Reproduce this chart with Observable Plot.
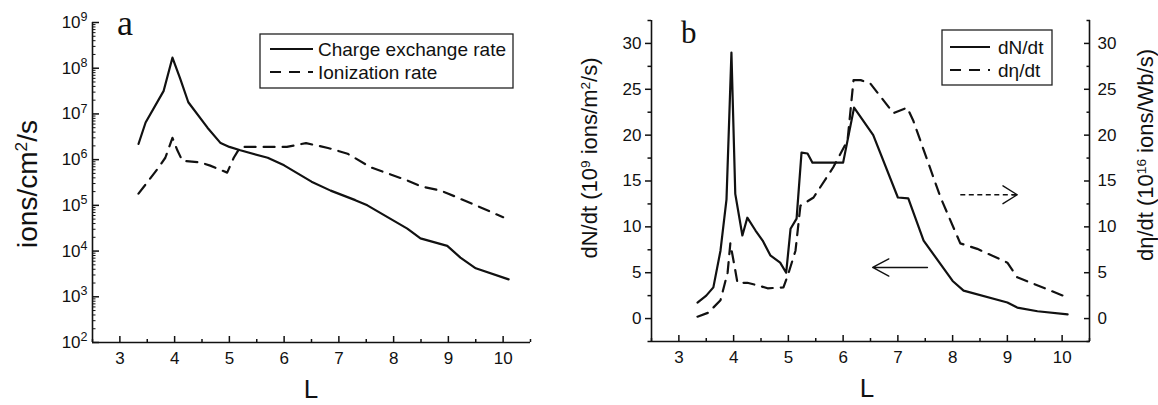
<!DOCTYPE html>
<html><head><meta charset="utf-8">
<script src="https://cdn.jsdelivr.net/npm/d3@7"></script>
<script src="https://cdn.jsdelivr.net/npm/@observablehq/plot@0.6"></script>
<style>
html,body{margin:0;padding:0;background:#fff;}
#wrap{position:relative;width:1158px;height:405px;overflow:hidden;font-family:"Liberation Sans",Arial,sans-serif;}
#wrap > svg{position:absolute;top:0;}
</style>
</head><body><div id="wrap"></div>
<script>
// ---------- Data: panel a (log scale) ----------
const cxL = [3.34, 3.47, 3.8, 3.96, 4.1, 4.25, 4.6, 4.84, 5.0, 5.2, 5.7, 6.0, 6.5, 6.85, 7.3, 7.52, 8.25, 8.49, 8.98, 9.22, 9.5, 10.1];
const cxRate = [2.2e6, 6.5e6, 3.2e7, 1.7e8, 6e7, 1.8e7, 5e6, 2.3e6, 1.9e6, 1.6e6, 1.1e6, 7.5e5, 3.3e5, 2.1e5, 1.3e5, 1e5, 3.1e4, 1.9e4, 1.3e4, 7.2e3, 4.2e3, 2.4e3];
const ionL = [3.34, 3.69, 3.83, 3.96, 4.05, 4.14, 4.47, 4.65, 4.96, 5.08, 5.2, 6.05, 6.4, 6.8, 7.16, 7.58, 8.25, 8.5, 8.86, 9.0, 9.5, 10.0];
const ionRate = [1.8e5, 6.3e5, 1.1e6, 3e6, 1.6e6, 9.5e5, 8.7e5, 7.4e5, 5.2e5, 1.1e6, 1.9e6, 1.9e6, 2.3e6, 1.8e6, 1.35e6, 6.8e5, 3.5e5, 2.6e5, 2.1e5, 1.8e5, 1e5, 5.5e4];

// ---------- Data: panel b ----------
const dNL = [3.34, 3.5, 3.63, 3.76, 3.87, 3.96, 4.03, 4.16, 4.25, 4.4, 4.53, 4.67, 4.85, 4.96, 5.04, 5.15, 5.24, 5.35, 5.44, 6.0, 6.2, 6.55, 7.0, 7.19, 7.47, 8.0, 8.2, 9.0, 9.18, 9.55, 10.1];
const dNdt = [1.75, 2.5, 3.4, 7.4, 13, 29, 13.6, 9.06, 11, 9.6, 8.5, 6.9, 6.1, 5.0, 9.8, 10.9, 18.1, 18, 17, 17, 23, 20, 13.2, 13.1, 8.5, 4.1, 3.05, 1.75, 1.2, 0.8, 0.45];
const detaL = [3.34, 3.54, 3.76, 3.89, 3.94, 4.02, 4.07, 4.25, 4.45, 4.62, 4.91, 5.0, 5.13, 5.22, 5.46, 5.82, 6.08, 6.19, 6.32, 6.5, 6.92, 7.17, 7.28, 7.78, 8.14, 8.45, 9.0, 9.18, 10.1];
const detadt = [0.2, 0.65, 2, 5, 8.2, 5.6, 3.9, 3.9, 3.6, 3.3, 3.4, 4.9, 7.4, 12.3, 13.2, 16.5, 19.4, 26, 26, 25.6, 22.4, 23, 21.6, 13.2, 8.2, 7.6, 6.1, 4.5, 2.3];

// ---------- Ticks ----------
const xMajor = [3, 4, 5, 6, 7, 8, 9, 10];
const xMinor = [2.5, 3.5, 4.5, 5.5, 6.5, 7.5, 8.5, 9.5, 10.5];
const yaExp = [2, 3, 4, 5, 6, 7, 8, 9];
const yaMajor = yaExp.map(e => Math.pow(10, e));
const yaMinor = yaExp.slice(0, -1).flatMap(e => [2,3,4,5,6,7,8,9].map(m => m * Math.pow(10, e)));
const ybMajor = [0, 5, 10, 15, 20, 25, 30];
const ybMinor = [-2.5, 2.5, 7.5, 12.5, 17.5, 22.5, 27.5, 32.5];

// ---------- Annotation arrows (data units of panel b) ----------
const arrowSolid = [{x1: 7.54, x2: 6.54, y: 5.57}];
const arrowDashed = [{x1: 8.14, x2: 9.18, y: 13.5}];

const INK = "#111";
const FONT = "'Liberation Sans', Arial, sans-serif";
const rowsCx = cxL.map((L, i) => ({L, v: cxRate[i]}));
const rowsIon = ionL.map((L, i) => ({L, v: ionRate[i]}));
const rowsN = dNL.map((L, i) => ({L, v: dNdt[i]}));
const rowsEta = detaL.map((L, i) => ({L, v: detadt[i]}));
const DASH = "11,8";
const TFS = 17;

const commonStyle = {fontFamily: FONT, fontSize: "17px", color: INK, background: "transparent", overflow: "visible"};

const plotA = Plot.plot({
  width: 560, height: 405,
  marginLeft: 92, marginRight: 30, marginTop: 22, marginBottom: 63,
  style: commonStyle,
  x: {domain: [2.5, 10.5], label: null},
  y: {type: "log", domain: [1e2, 1e9], label: null},
  marks: [
    Plot.axisX(xMajor, {tickSize: -6, tickPadding: 15, strokeWidth: 1.5, fontSize: TFS, label: null, tickFormat: d => String(d)}),
    Plot.axisX(xMinor, {tickSize: -3, strokeWidth: 1.5, label: null, tickFormat: () => ""}),
    Plot.axisY(yaMajor, {tickSize: -7, tickPadding: 12, strokeWidth: 1.5, fontSize: TFS, label: null, tickFormat: d => "10^" + Math.round(Math.log10(d))}),
    Plot.axisY(yaMinor, {tickSize: -3.5, strokeWidth: 1, label: null, tickFormat: () => ""}),
    Plot.ruleY([1e2], {stroke: INK, strokeWidth: 1.6}),
    Plot.ruleX([2.5], {stroke: INK, strokeWidth: 1.6}),
    Plot.line(rowsCx, {x: "L", y: "v", stroke: INK, strokeWidth: 2.2}),
    Plot.line(rowsIon, {x: "L", y: "v", stroke: INK, strokeWidth: 2.2, strokeDasharray: DASH})
  ]
});
plotA.style.left = "0px";

const plotB = Plot.plot({
  width: 598, height: 405,
  marginLeft: 91, marginRight: 69, marginTop: 20, marginBottom: 64,
  style: commonStyle,
  x: {domain: [2.5, 10.5], label: null},
  y: {domain: [-2.5, 32.5], label: null},
  marks: [
    Plot.axisX(xMajor, {tickSize: -6, tickPadding: 15, strokeWidth: 1.5, fontSize: TFS, label: null, tickFormat: d => String(d)}),
    Plot.axisX(xMinor, {tickSize: -3, strokeWidth: 1.5, label: null, tickFormat: () => ""}),
    Plot.axisY(ybMajor, {anchor: "left", tickSize: 6, tickPadding: 4, strokeWidth: 1.5, fontSize: TFS, label: null, tickFormat: d => String(d)}),
    Plot.axisY(ybMinor, {anchor: "left", tickSize: 3.5, strokeWidth: 1.5, label: null, tickFormat: () => ""}),
    Plot.axisY(ybMajor, {anchor: "right", tickSize: -6, tickPadding: 14, strokeWidth: 1.5, fontSize: TFS, label: null, tickFormat: d => String(d)}),
    Plot.axisY(ybMinor, {anchor: "right", tickSize: -3.5, strokeWidth: 1.5, label: null, tickFormat: () => ""}),
    Plot.ruleY([-2.5], {stroke: INK, strokeWidth: 1.6}),
    Plot.ruleX([2.5], {stroke: INK, strokeWidth: 1.6}),
    Plot.ruleX([10.5], {stroke: INK, strokeWidth: 1.6}),
    Plot.line(rowsN, {x: "L", y: "v", stroke: INK, strokeWidth: 2.2}),
    Plot.line(rowsEta, {x: "L", y: "v", stroke: INK, strokeWidth: 2.2, strokeDasharray: DASH}),
    Plot.arrow(arrowSolid, {x1: "x1", x2: "x2", y1: "y", y2: "y", stroke: INK, strokeWidth: 1.4, headLength: 22, headAngle: 56}),
    Plot.link(arrowDashed, {x1: "x1", x2: "x2", y1: "y", y2: "y", stroke: INK, strokeWidth: 1.4, strokeDasharray: "5,3.5"}),
    Plot.arrow(arrowDashed, {x1: "x1", x2: "x2", y1: "y", y2: "y", stroke: INK, strokeWidth: 1.4, headLength: 18, headAngle: 64, insetStart: 52})
  ]
});
plotB.style.left = "560px";

const wrap = document.getElementById("wrap");
wrap.appendChild(plotA);
wrap.appendChild(plotB);

// Superscripted log tick labels
plotA.querySelectorAll("text").forEach(t => {
  const s = t.textContent;
  if (s.startsWith("10^")) {
    const e = s.slice(3);
    t.textContent = "10";
    const sp = document.createElementNS("http://www.w3.org/2000/svg", "tspan");
    sp.setAttribute("dy", "-0.55em");
    sp.setAttribute("font-size", "12.5px");
    sp.textContent = e;
    t.appendChild(sp);
  }
});

// ---------- Overlay: titles, panel letters, legends ----------
const ov = d3.select(wrap).append("svg")
  .attr("width", 1158).attr("height", 405)
  .style("left", "0px").style("pointer-events", "none")
  .style("font-family", FONT).attr("fill", INK);

function supText(g, parts, size) {
  const t = g.append("text").attr("text-anchor", "middle").attr("font-size", size);
  parts.forEach(p => {
    const sp = t.append("tspan").text(p.t);
    if (p.sup) sp.attr("baseline-shift", "super").attr("font-size", size * 0.62);
  });
  return t;
}
supText(ov.append("g").attr("transform", "translate(37,184) rotate(-90)"),
  [{t: "ions/cm"}, {t: "2", sup: true}, {t: "/s"}], 28);
supText(ov.append("g").attr("transform", "translate(597,158) rotate(-90)"),
  [{t: "dN/dt (10"}, {t: "9", sup: true}, {t: " ions/m"}, {t: "2", sup: true}, {t: "/s)"}], 22);
supText(ov.append("g").attr("transform", "translate(1153,155) rotate(-90)"),
  [{t: "d\u03B7/dt (10"}, {t: "16", sup: true}, {t: " ions/Wb/s)"}], 22);

ov.append("text").attr("x", 311).attr("y", 398).attr("text-anchor", "middle").attr("font-size", 26).text("L");
ov.append("text").attr("x", 867).attr("y", 397).attr("text-anchor", "middle").attr("font-size", 26).text("L");

ov.append("text").attr("x", 117).attr("y", 35).style("font-family", "'Liberation Serif', 'DejaVu Serif', serif").attr("font-size", 36).text("a");
ov.append("text").attr("x", 681).attr("y", 43).style("font-family", "'Liberation Serif', 'DejaVu Serif', serif").attr("font-size", 31).text("b");

function legend(x, y, w, h, items, lineX1, lineX2, textX, rowY, size) {
  ov.append("rect").attr("x", x).attr("y", y).attr("width", w).attr("height", h)
    .attr("fill", "white").attr("stroke", "#222").attr("stroke-width", 1.3);
  items.forEach((it, i) => {
    ov.append("line").attr("x1", lineX1).attr("x2", lineX2).attr("y1", rowY[i]).attr("y2", rowY[i])
      .attr("stroke", INK).attr("stroke-width", 2.2).attr("stroke-dasharray", it.dash ? DASH : null);
    ov.append("text").attr("x", textX).attr("y", rowY[i]).attr("dy", "0.36em").attr("font-size", size).text(it.label);
  });
}
legend(260, 34, 253, 54, [{label: "Charge exchange rate"}, {label: "Ionization rate", dash: true}], 270, 313, 318, [49, 72], 19);
legend(942, 30, 110, 55, [{label: "dN/dt"}, {label: "d\u03B7/dt", dash: true}], 950, 990, 998, [47, 70], 19);
</script>
</body></html>
